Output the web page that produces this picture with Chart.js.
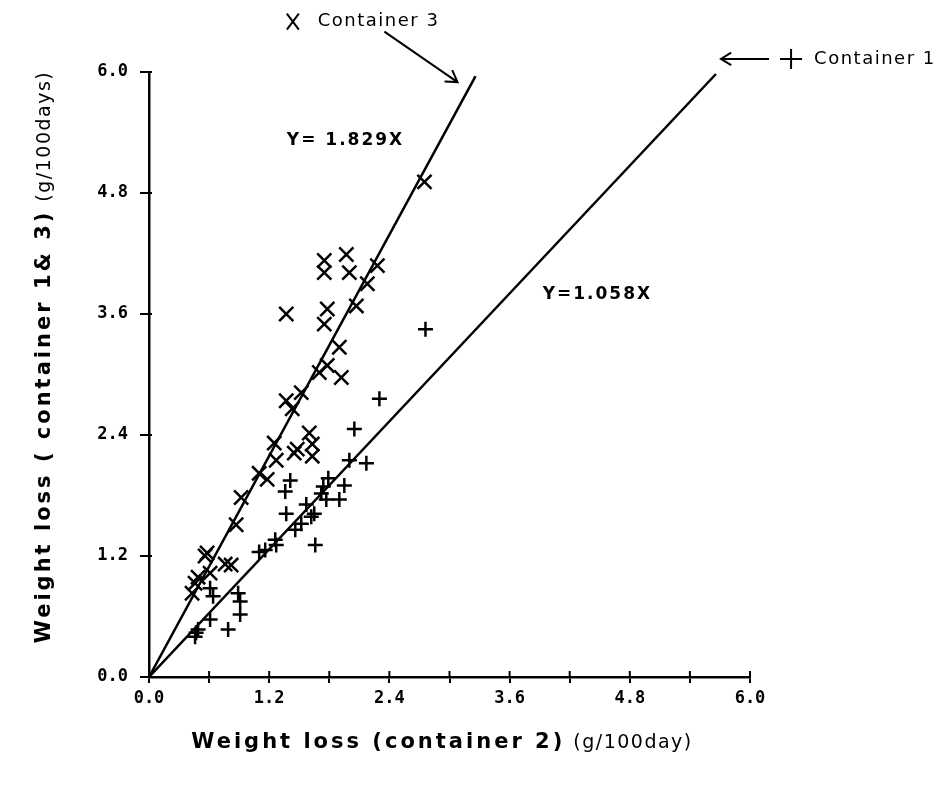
<!DOCTYPE html>
<html>
  <head>
    <title>Weight loss</title>
    <style>
      body {
        margin: 0;
        background: #fff;
      }
      canvas {
        display: block;
      }
    </style>
    <script src="https://cdn.jsdelivr.net/npm/chart.js"></script>
  </head>
  <body>
    <canvas id="weight-chart" width="948" height="786"></canvas>

    <script>
      // values, g/100 days

      // container 3 (X marks) against container 2
      const container3X = [
        2.75, 1.75, 1.97, 1.75, 2.0, 2.28, 2.18, 2.07, 1.37, 1.78, 1.75, 1.9,
        1.78, 1.7, 1.92, 1.52, 1.37, 1.43, 1.6, 1.25, 1.63, 1.48, 1.45, 1.63,
        1.27, 1.1, 1.18, 0.92, 0.87, 0.58, 0.56, 0.82, 0.76, 0.61, 0.49, 0.46,
        0.43,
      ];
      const container3Y = [
        4.91, 4.13, 4.19, 4.01, 4.01, 4.08, 3.9, 3.68, 3.6, 3.65, 3.5, 3.27,
        3.09, 3.02, 2.97, 2.82, 2.74, 2.66, 2.42, 2.32, 2.31, 2.26, 2.22, 2.19,
        2.15, 2.02, 1.96, 1.78, 1.51, 1.23, 1.2, 1.11, 1.12, 1.03, 0.99, 0.93,
        0.83,
      ];

      // container 1 (+ marks) against container 2
      const container1X = [
        2.76, 2.3, 2.05, 2.0, 2.17, 1.41, 1.36, 1.79, 1.74, 1.95, 1.72, 1.77,
        1.9, 1.57, 1.37, 1.65, 1.62, 1.52, 1.46, 1.66, 1.26, 1.27, 1.16, 1.1,
        0.89, 0.91, 0.91, 0.61, 0.64, 0.61, 0.79, 0.49, 0.46, 0.47,
      ];
      const container1Y = [
        3.45, 2.76, 2.46, 2.15, 2.12, 1.95, 1.84, 1.97, 1.89, 1.9, 1.82, 1.76,
        1.76, 1.71, 1.62, 1.62, 1.59, 1.52, 1.46, 1.31, 1.36, 1.31, 1.26, 1.24,
        0.83, 0.75, 0.62, 0.88, 0.8, 0.57, 0.47, 0.47, 0.4, 0.44,
      ];

      // fitted lines as drawn (Y = 1.829X and Y = 1.058X)
      const fit3X = [0, 3.26];
      const fit3Y = [0, 5.96];
      const fit1X = [0, 5.66];
      const fit1Y = [0, 5.98];

      const tickLabels = ["0.0", "1.2", "2.4", "3.6", "4.8", "6.0"];

      const toPoints = (xs, ys) => xs.map((x, i) => ({ x, y: ys[i] }));

      function arrow(ctx, x1, y1, x2, y2, head) {
        const a = Math.atan2(y2 - y1, x2 - x1);
        ctx.beginPath();
        ctx.moveTo(x1, y1);
        ctx.lineTo(x2, y2);
        ctx.moveTo(x2 - head * Math.cos(a - 0.55), y2 - head * Math.sin(a - 0.55));
        ctx.lineTo(x2, y2);
        ctx.lineTo(x2 - head * Math.cos(a + 0.55), y2 - head * Math.sin(a + 0.55));
        ctx.stroke();
      }

      // draws two-part text (bold part + light unit part) centred on 0,0
      function twoPartText(ctx, boldText, unitText) {
        ctx.textBaseline = "middle";
        ctx.textAlign = "left";
        ctx.font = "bold 21px 'DejaVu Sans'";
        ctx.letterSpacing = "3px";
        const w1 = ctx.measureText(boldText).width;
        ctx.font = "19px 'DejaVu Sans'";
        ctx.letterSpacing = "1.5px";
        const w2 = ctx.measureText(unitText).width;
        const start = -(w1 + 8 + w2) / 2;
        ctx.font = "bold 21px 'DejaVu Sans'";
        ctx.letterSpacing = "3px";
        ctx.fillText(boldText, start, 0);
        ctx.font = "19px 'DejaVu Sans'";
        ctx.letterSpacing = "1.5px";
        ctx.fillText(unitText, start + w1 + 8, 0);
      }

      const annotations = {
        id: "annotations",
        afterDraw(chart) {
          const ctx = chart.ctx;
          const px = (v) => chart.scales.x.getPixelForValue(v);
          const py = (v) => chart.scales.y.getPixelForValue(v);

          ctx.save();
          ctx.strokeStyle = "#000";
          ctx.fillStyle = "#000";

          // tick marks cross the axes a little
          ctx.lineWidth = 2;
          ctx.beginPath();
          for (const t of chart.scales.x.ticks) {
            ctx.moveTo(px(t.value), py(0));
            ctx.lineTo(px(t.value), py(0) - 6);
          }
          for (const t of chart.scales.y.ticks) {
            ctx.moveTo(px(0), py(t.value));
            ctx.lineTo(px(0) + 3, py(t.value));
          }
          ctx.stroke();

          // "X Container 3" with arrow down to the steep line
          ctx.lineWidth = 2;
          const mx = px(1.436);
          const my = py(6.5);
          ctx.beginPath();
          ctx.moveTo(mx - 6, my - 8);
          ctx.lineTo(mx + 6, my + 8);
          ctx.moveTo(mx + 6, my - 8);
          ctx.lineTo(mx - 6, my + 8);
          ctx.stroke();
          ctx.font = "18px 'DejaVu Sans'";
          ctx.letterSpacing = "1.5px";
          ctx.textBaseline = "middle";
          ctx.textAlign = "left";
          ctx.fillText("Container 3", px(1.685), py(6.5));
          arrow(ctx, px(2.35), py(6.4), px(3.08), py(5.9), 13);

          // "<- + Container 1"
          const cy = py(6.13);
          arrow(ctx, px(6.19), cy, px(5.71), cy, 12);
          ctx.beginPath();
          ctx.moveTo(px(6.41) - 11, cy);
          ctx.lineTo(px(6.41) + 11, cy);
          ctx.moveTo(px(6.41), cy - 10);
          ctx.lineTo(px(6.41), cy + 10);
          ctx.stroke();
          ctx.fillText("Container 1", px(6.64), cy);

          // equations
          ctx.font = "bold 17px 'DejaVu Sans'";
          ctx.letterSpacing = "2px";
          ctx.fillText("Y= 1.829X", px(1.376), py(5.32));
          ctx.fillText("Y=1.058X", px(3.93), py(3.79));

          // axis titles
          ctx.save();
          ctx.translate(442, 743);
          twoPartText(ctx, "Weight loss (container 2)", "(g/100day)");
          ctx.restore();

          ctx.save();
          ctx.translate(45, 357);
          ctx.rotate(-Math.PI / 2);
          twoPartText(ctx, "Weight loss ( container 1& 3)", "(g/100days)");
          ctx.restore();

          ctx.letterSpacing = "0px";
          ctx.restore();
        },
      };

      const tickFont = { family: "'DejaVu Sans Mono'", weight: "bold", size: 17 };

      new Chart(document.getElementById("weight-chart"), {
        type: "scatter",
        data: {
          datasets: [
            {
              label: "Container 3",
              data: toPoints(container3X, container3Y),
              pointStyle: "crossRot",
              pointRadius: 10,
              pointBorderWidth: 2.5,
              borderColor: "#000",
              backgroundColor: "#000",
            },
            {
              label: "Container 1",
              data: toPoints(container1X, container1Y),
              pointStyle: "cross",
              pointRadius: 7.5,
              pointBorderWidth: 2.5,
              borderColor: "#000",
              backgroundColor: "#000",
            },
            {
              label: "Y = 1.829X",
              data: toPoints(fit3X, fit3Y),
              showLine: true,
              pointRadius: 0,
              borderWidth: 2.5,
              borderColor: "#000",
            },
            {
              label: "Y = 1.058X",
              data: toPoints(fit1X, fit1Y),
              showLine: true,
              pointRadius: 0,
              borderWidth: 2.5,
              borderColor: "#000",
            },
          ],
        },
        options: {
          responsive: false,
          animation: false,
          layout: { padding: { left: 0, right: 198, top: 72, bottom: 0 } },
          plugins: {
            legend: { display: false },
            tooltip: { enabled: false },
          },
          scales: {
            x: {
              type: "linear",
              min: 0,
              max: 6,
              afterFit: (scale) => {
                scale.height = 109;
              },
              border: { display: true, color: "#000", width: 2.5 },
              grid: {
                drawOnChartArea: false,
                drawTicks: true,
                tickLength: 6,
                color: "#000",
                lineWidth: 2,
              },
              ticks: {
                stepSize: 0.6,
                padding: 5,
                color: "#000",
                font: tickFont,
                maxRotation: 0,
                autoSkip: false,
                callback: (value, index) =>
                  index % 2 === 0 ? tickLabels[index / 2] : "",
              },
            },
            y: {
              type: "linear",
              min: 0,
              max: 6,
              afterFit: (scale) => {
                scale.width = 149;
              },
              border: { display: true, color: "#000", width: 2.5 },
              grid: {
                drawOnChartArea: false,
                drawTicks: true,
                tickLength: 9,
                color: "#000",
                lineWidth: 2,
              },
              ticks: {
                stepSize: 1.2,
                padding: 12,
                color: "#000",
                font: tickFont,
                autoSkip: false,
                callback: (value, index) => tickLabels[index],
              },
            },
          },
        },
        plugins: [annotations],
      });
    </script>
  </body>
</html>
